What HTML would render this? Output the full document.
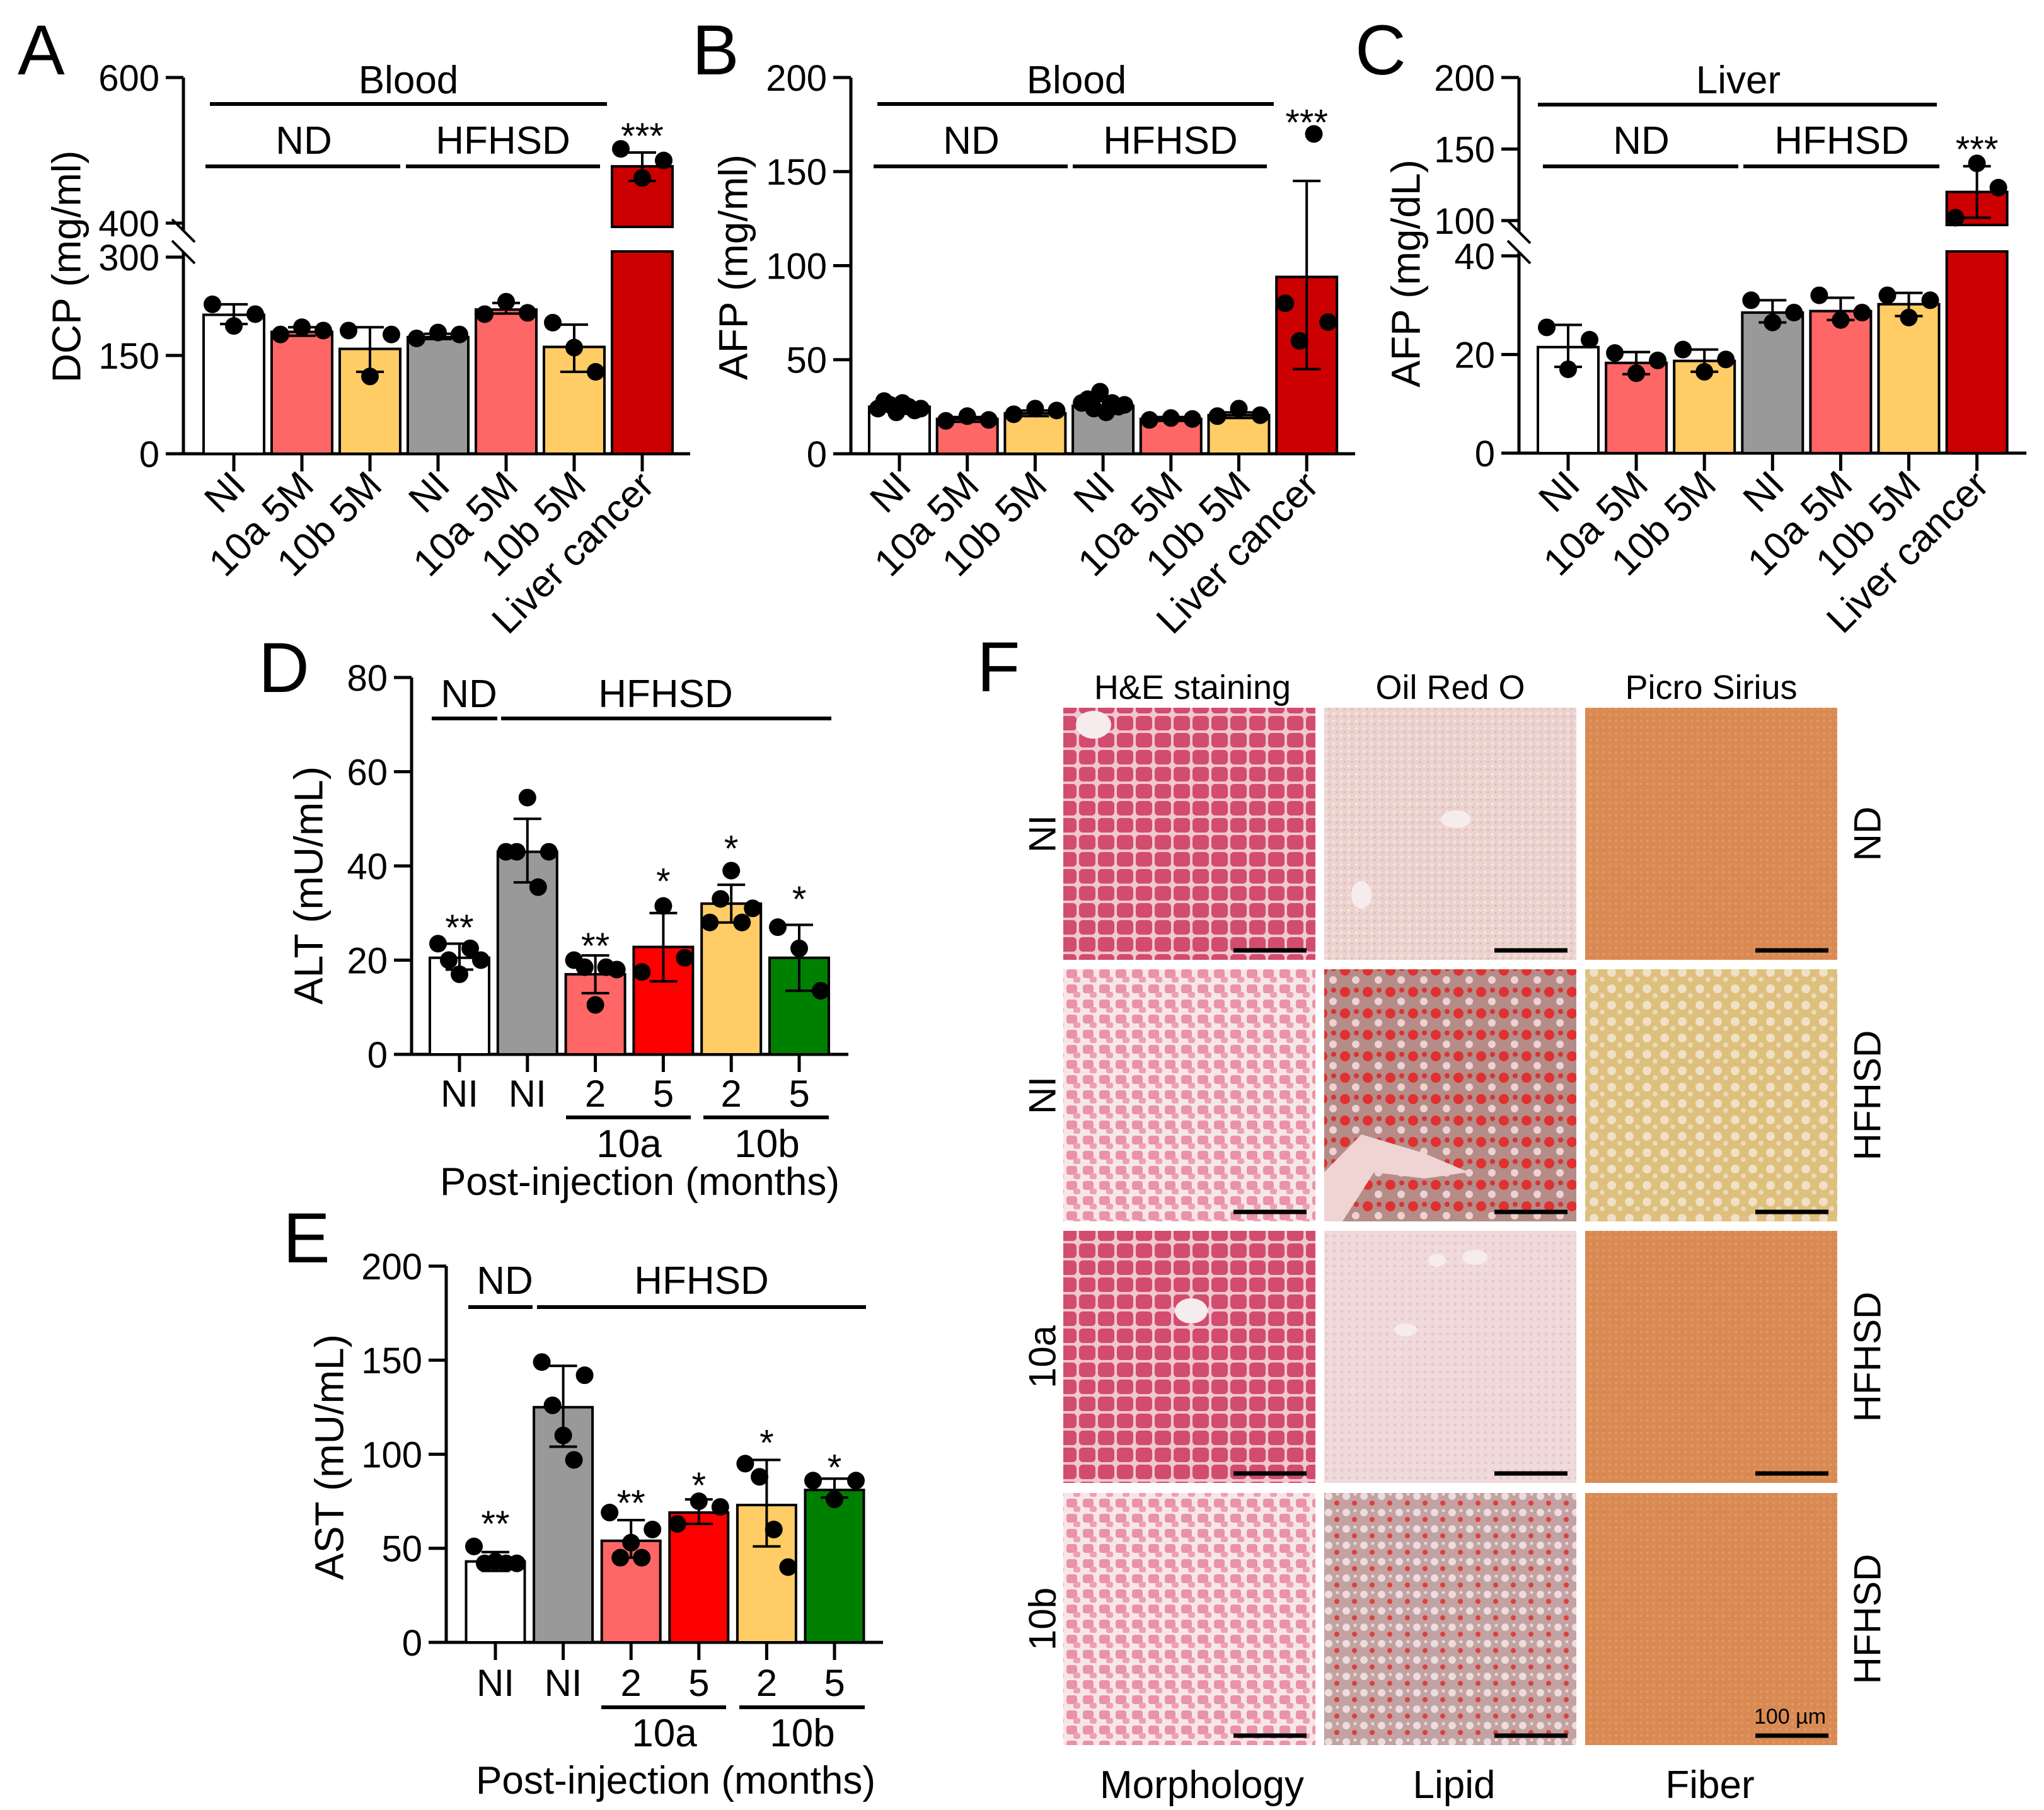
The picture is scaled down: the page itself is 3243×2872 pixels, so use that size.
<!DOCTYPE html>
<html><head><meta charset="utf-8"><style>
html,body{margin:0;padding:0;background:#fff}
svg{display:block;font-family:"Liberation Sans",Arial,sans-serif}
</style></head><body>
<svg id="fig" xmlns="http://www.w3.org/2000/svg" width="3243" height="2872" viewBox="0 0 3243 2872">
<defs>
<pattern id="heDense" width="30" height="27" patternUnits="userSpaceOnUse"><rect width="30" height="27" fill="#f2c6d0"/><rect x="2" y="2" width="26" height="23" rx="6" fill="#d24c6e"/></pattern>
<pattern id="heLoose" width="26" height="24" patternUnits="userSpaceOnUse"><rect width="26" height="24" fill="#f6e6ea"/><rect x="2" y="2" width="17" height="14" rx="4" fill="#ea92a6"/><rect x="13" y="14" width="11" height="9" rx="3" fill="#ee9fb1"/></pattern>
<pattern id="oilFine" width="12" height="12" patternUnits="userSpaceOnUse"><rect width="12" height="12" fill="#ecd2ce"/><circle cx="4" cy="4" r="2.5" fill="#f4e2de"/><circle cx="9" cy="9" r="1.5" fill="#d8b4b0"/></pattern>
<pattern id="oilRed" width="36" height="34" patternUnits="userSpaceOnUse"><rect width="36" height="34" fill="#b58c88"/><circle cx="10" cy="10" r="8" fill="#e03030"/><circle cx="27" cy="25" r="6" fill="#eed2d2"/><circle cx="28" cy="7" r="4" fill="#d83434"/></pattern>
<pattern id="oilLight" width="12" height="12" patternUnits="userSpaceOnUse"><rect width="12" height="12" fill="#f0dadc"/><circle cx="5" cy="5" r="2.5" fill="#e6c8cc"/></pattern>
<pattern id="oilDots" width="28" height="26" patternUnits="userSpaceOnUse"><rect width="28" height="26" fill="#c2a2a2"/><circle cx="8" cy="8" r="6" fill="#eedcdc"/><circle cx="21" cy="19" r="4" fill="#dc4040"/><circle cx="22" cy="5" r="2.5" fill="#eed6d6"/></pattern>
<pattern id="psOrange" width="10" height="10" patternUnits="userSpaceOnUse"><rect width="10" height="10" fill="#d98a52"/><circle cx="4" cy="4" r="2" fill="#e09a68"/></pattern>
<pattern id="psYellow" width="28" height="26" patternUnits="userSpaceOnUse"><rect width="28" height="26" fill="#dcc07c"/><circle cx="9" cy="9" r="7" fill="#efe0c6"/><circle cx="22" cy="20" r="4" fill="#ecd8bc"/></pattern>
</defs>
<g id="static" font-family="Liberation Sans, Arial, sans-serif" fill="#000">
<text x="28" y="118" font-size="112">A</text>
<text x="1098" y="118" font-size="112">B</text>
<text x="2150" y="118" font-size="112">C</text>
<text x="410" y="1098" font-size="112">D</text>
<text x="449" y="2003" font-size="112">E</text>
<text x="1550" y="1097" font-size="112">F</text>

<text x="648" y="148" font-size="62" text-anchor="middle">Blood</text>
<line x1="333" y1="165" x2="963" y2="165" stroke="#000" stroke-width="6"/>
<text x="482" y="244" font-size="62" text-anchor="middle">ND</text>
<line x1="326" y1="264" x2="635" y2="264" stroke="#000" stroke-width="6"/>
<text x="798" y="244" font-size="62" text-anchor="middle">HFHSD</text>
<line x1="644" y1="264" x2="952" y2="264" stroke="#000" stroke-width="6"/>
<text transform="translate(105,423) rotate(-90)" font-size="64" text-anchor="middle" dy="0.35em">DCP (mg/ml)</text>

<text x="1708" y="148" font-size="62" text-anchor="middle">Blood</text>
<line x1="1392" y1="165" x2="2021" y2="165" stroke="#000" stroke-width="6"/>
<text x="1541" y="244" font-size="62" text-anchor="middle">ND</text>
<line x1="1386" y1="264" x2="1694" y2="264" stroke="#000" stroke-width="6"/>
<text x="1857" y="244" font-size="62" text-anchor="middle">HFHSD</text>
<line x1="1702" y1="264" x2="2010" y2="264" stroke="#000" stroke-width="6"/>
<text transform="translate(1163,424) rotate(-90)" font-size="64" text-anchor="middle" dy="0.35em">AFP (mg/ml)</text>

<text x="2758" y="148" font-size="62" text-anchor="middle">Liver</text>
<line x1="2440" y1="166" x2="3073" y2="166" stroke="#000" stroke-width="6"/>
<text x="2604" y="244" font-size="62" text-anchor="middle">ND</text>
<line x1="2448" y1="264" x2="2758" y2="264" stroke="#000" stroke-width="6"/>
<text x="2922" y="244" font-size="62" text-anchor="middle">HFHSD</text>
<line x1="2766" y1="264" x2="3077" y2="264" stroke="#000" stroke-width="6"/>
<text transform="translate(2230,434) rotate(-90)" font-size="64" text-anchor="middle" dy="0.35em">AFP (mg/dL)</text>

<text x="744" y="1122" font-size="62" text-anchor="middle">ND</text>
<line x1="685" y1="1140" x2="789" y2="1140" stroke="#000" stroke-width="6"/>
<text x="1056" y="1122" font-size="62" text-anchor="middle">HFHSD</text>
<line x1="795" y1="1140" x2="1319" y2="1140" stroke="#000" stroke-width="6"/>
<text transform="translate(489,1405) rotate(-90)" font-size="64" text-anchor="middle" dy="0.35em">ALT (mU/mL)</text>
<line x1="898" y1="1773" x2="1096" y2="1773" stroke="#000" stroke-width="6"/>
<line x1="1116" y1="1773" x2="1315" y2="1773" stroke="#000" stroke-width="6"/>
<text x="998" y="1836" font-size="62" text-anchor="middle">10a</text>
<text x="1217" y="1836" font-size="62" text-anchor="middle">10b</text>
<text x="1015" y="1896" font-size="62" text-anchor="middle">Post-injection (months)</text>

<text x="801" y="2053" font-size="62" text-anchor="middle">ND</text>
<line x1="743" y1="2074" x2="845" y2="2074" stroke="#000" stroke-width="6"/>
<text x="1113" y="2053" font-size="62" text-anchor="middle">HFHSD</text>
<line x1="852" y1="2074" x2="1374" y2="2074" stroke="#000" stroke-width="6"/>
<text transform="translate(522,2312) rotate(-90)" font-size="64" text-anchor="middle" dy="0.35em">AST (mU/mL)</text>
<line x1="954" y1="2709" x2="1152" y2="2709" stroke="#000" stroke-width="6"/>
<line x1="1173" y1="2709" x2="1372" y2="2709" stroke="#000" stroke-width="6"/>
<text x="1054" y="2771" font-size="62" text-anchor="middle">10a</text>
<text x="1273" y="2771" font-size="62" text-anchor="middle">10b</text>
<text x="1072" y="2846" font-size="62" text-anchor="middle">Post-injection (months)</text>

<text x="1892" y="1109" font-size="54" text-anchor="middle">H&amp;E staining</text>
<text x="2301" y="1109" font-size="54" text-anchor="middle">Oil Red O</text>
<text x="2715" y="1109" font-size="54" text-anchor="middle">Picro Sirius</text>
<text x="1907" y="2853" font-size="62" text-anchor="middle">Morphology</text>
<text x="2307" y="2853" font-size="62" text-anchor="middle">Lipid</text>
<text x="2713" y="2853" font-size="62" text-anchor="middle">Fiber</text>
</g>
<g id="dyn"></g>
</svg>
<script>
// ---------- Panel A data (DCP, blood) ----------
const aCategories = ["NI","10a 5M","10b 5M","NI","10a 5M","10b 5M","Liver cancer"];
const aMeans = [212,186,160,178,220,163,478];
const aErrLow = [198,180,125,175,214,125,458];
const aErrHigh = [228,193,193,183,230,197,497];
const aPoints = [[228,195,213],[182,193,188],[188,118,182],[176,185,182],[213,232,215],[200,162,125],[502,462,486]];
const aTicksLow = [0,150,300];
const aTicksHigh = [400,600];
const aStars = ["","","","","","","***"];
const aStarValues = [0,0,0,0,0,0,530];

// ---------- Panel B data (AFP, blood) ----------
const bCategories = ["NI","10a 5M","10b 5M","NI","10a 5M","10b 5M","Liver cancer"];
const bMeans = [25,18.5,21.5,25.5,18.5,20.5,94];
const bErrLow = [23,17,20,23,17.5,19,45];
const bErrHigh = [27,19.5,23,28,19.5,22,145];
const bPoints = [[24,28,26,22,27,25,23,24],[17.5,20,18],[21,24,23],[27,29,24,33,22,27,25,26],[18,19,18.5],[20,24,20.5],[80,60,170,70]];
const bTicks = [0,50,100,150,200];
const bStars = ["","","","","","","***"];
const bStarValues = [0,0,0,0,0,0,180];

// ---------- Panel C data (AFP, liver) ----------
const cCategories = ["NI","10a 5M","10b 5M","NI","10a 5M","10b 5M","Liver cancer"];
const cMeans = [21.5,18.3,18.7,28.5,28.8,30.2,120];
const cErrLow = [17.5,16,16.5,26.5,27,27.8,102];
const cErrHigh = [26,20.5,21,31,31.5,32.5,138];
const cPoints = [[25.5,17,23],[20.3,16.2,18.8],[21,16.5,19],[31,26.5,28.5],[32,27,28.5],[32,27.5,31],[102,140,123]];
const cTicksLow = [0,20,40];
const cTicksHigh = [100,150,200];
const cStars = ["","","","","","","***"];
const cStarValues = [0,0,0,0,0,0,155];

// ---------- Panel D data (ALT) ----------
const dCategories = ["NI","NI","2","5","2","5"];
const dMeans = [20.5,43,17,22.8,32,20.5];
const dErrLow = [18,36.5,13,15.5,28,13.5];
const dErrHigh = [23.5,50,21,30,36,27.5];
const dPoints = [[23.5,20,17,22.5,20],[43,43,54.5,35.5,43],[20,18.5,10.5,18.5,18],[17.5,31.5,20.5],[28,33,39,28,31],[27,22.5,13.5]];
const dTicks = [0,20,40,60,80];
const dStars = ["**","","**","*","*","*"];
const dStarValues = [28.5,0,24.6,38.3,45.3,34.5];

// ---------- Panel E data (AST) ----------
const eCategories = ["NI","NI","2","5","2","5"];
const eMeans = [43,125,54,69,73,81];
const eErrLow = [38,104,45,63,51,77];
const eErrHigh = [48,147,65,76,97,87];
const ePoints = [[51,42,43,42,42],[149,126,110,97,142],[69,45,53,45,60],[63,75,72],[95,88,60,40],[86,76,86]];
const eTicks = [0,50,100,150,200];
const eStars = ["**","","**","*","*","*"];
const eStarValues = [67,0,78,87.5,110,97];

const NS = "http://www.w3.org/2000/svg";
const root = document.getElementById("dyn");
function mk(tag, attrs, parent){
  const el = document.createElementNS(NS, tag);
  for (const k in attrs) el.setAttribute(k, attrs[k]);
  (parent || root).appendChild(el);
  return el;
}
const COL = {white:"#ffffff", salmon:"#ff6666", yellow:"#ffcc66", gray:"#999999", dred:"#cc0000", red:"#ff0000", green:"#008000"};

function drawChart(cfg){
  const g = mk("g", {});
  
  
  const n = cfg.categories.length;
  const cx = i => cfg.x0 + i * cfg.step;
  if (cfg.brk){
    const a1 = mk("line", {x1:cfg.axisX, y1:cfg.yTop, x2:cfg.axisX, y2:cfg.brk.axUp, stroke:"#000","stroke-width":5}, g);
    
    
    const a2 = mk("line", {x1:cfg.axisX, y1:cfg.brk.axLow, x2:cfg.axisX, y2:cfg.base+2, stroke:"#000","stroke-width":5}, g);
    
    
    [cfg.brk.axUp, cfg.brk.axLow].forEach(yy => {
      const d = mk("line", {x1:cfg.axisX-18, y1:yy-18, x2:cfg.axisX+18, y2:yy+18, stroke:"#000","stroke-width":4}, g);
      
      
    });
  } else {
    const a = mk("line", {x1:cfg.axisX, y1:cfg.yTop, x2:cfg.axisX, y2:cfg.base+2, stroke:"#000","stroke-width":5}, g);
    
    
  }
  const xa = mk("line", {x1:cfg.axisX-28, y1:cfg.base, x2:cfg.xEnd, y2:cfg.base, stroke:"#000","stroke-width":5}, g);
  
  
  cfg.ticks.forEach(t => {
    const yy = cfg.y(t);
    const tl = mk("line", {x1:cfg.axisX-28, y1:yy, x2:cfg.axisX, y2:yy, stroke:"#000","stroke-width":5}, g);
    
    
    const tx = mk("text", {x:cfg.axisX-38, y:yy, "font-size":58, "text-anchor":"end", dy:"0.36em"}, g);
    tx.textContent = String(t);
    
    
  });
  for (let i = 0; i < n; i++){
    const x = cx(i), w = cfg.bw, yT = cfg.y(cfg.means[i]);
    if (cfg.brk && yT < cfg.brk.barUp){
      const r1 = mk("rect", {x:x-w/2, y:yT, width:w, height:cfg.brk.barUp-yT, fill:cfg.colors[i], stroke:"#000","stroke-width":4}, g);
      
      
      const r2 = mk("rect", {x:x-w/2, y:cfg.brk.barLow, width:w, height:cfg.base-cfg.brk.barLow, fill:cfg.colors[i], stroke:"#000","stroke-width":4}, g);
      
      
    } else {
      const r = mk("rect", {x:x-w/2, y:yT, width:w, height:cfg.base-yT, fill:cfg.colors[i], stroke:"#000","stroke-width":4}, g);
      
      
    }
    const xt = mk("line", {x1:x, y1:cfg.base, x2:x, y2:cfg.base+28, stroke:"#000","stroke-width":5}, g);
    
    
    const yl = cfg.y(cfg.errLow[i]), yh = cfg.y(cfg.errHigh[i]);
    const ev = mk("line", {x1:x, y1:yl, x2:x, y2:yh, stroke:"#000","stroke-width":4}, g);
    
    
    [yl, yh].forEach(yy => {
      const c = mk("line", {x1:x-22, y1:yy, x2:x+22, y2:yy, stroke:"#000","stroke-width":4}, g);
      
      
    });
    const pts = cfg.points[i], m = pts.length;
    pts.forEach((v, j) => {
      const off = m > 1 ? -34 + 68 * j / (m - 1) : 0;
      const p = mk("circle", {cx:x+off, cy:cfg.y(v), r:14, fill:"#000"}, g);
      
      
    });
    if (cfg.stars[i]){
      const s = mk("text", {x:x, y:cfg.y(cfg.starValues[i]) + 32, "font-size":58, "text-anchor":"middle"}, g);
      s.textContent = cfg.stars[i];
      
      
    }
    if (cfg.rotLabels){
      const t = mk("text", {transform:"translate(" + (x+22) + "," + (cfg.base+54) + ") rotate(-45)", "font-size":61, "text-anchor":"end"}, g);
      t.textContent = cfg.categories[i];
      
      
    } else {
      const t = mk("text", {x:x, y:cfg.labelY, "font-size":60, "text-anchor":"middle"}, g);
      t.textContent = cfg.categories[i];
      
      
    }
  }
}

const colors7 = [COL.white, COL.salmon, COL.yellow, COL.gray, COL.salmon, COL.yellow, COL.dred];
const colors6 = [COL.white, COL.gray, COL.salmon, COL.red, COL.yellow, COL.green];

function yA(v){ return v <= 330 ? 720 - v * (720 - 408) / 300 : 354 - (v - 400) * (354 - 123) / 200; }
drawChart({name:"a", categories:aCategories, means:aMeans, errLow:aErrLow, errHigh:aErrHigh, points:aPoints,
  stars:aStars, starValues:aStarValues, ticks:aTicksLow.concat(aTicksHigh), y:yA, x0:371, step:108, bw:96,
  axisX:291, yTop:123, base:720, xEnd:1095, colors:colors7, rotLabels:true,
  brk:{axUp:366, axLow:400, barUp:360, barLow:399}});

function yB(v){ return 720 - v * 597 / 200; }
drawChart({name:"b", categories:bCategories, means:bMeans, errLow:bErrLow, errHigh:bErrHigh, points:bPoints,
  stars:bStars, starValues:bStarValues, ticks:bTicks, y:yB, x0:1427, step:107.7, bw:96,
  axisX:1350, yTop:123, base:720, xEnd:2150, colors:colors7, rotLabels:true});

function yC(v){ return v <= 60 ? 719 - v * (719 - 406) / 40 : 350 - (v - 100) * (350 - 123) / 100; }
drawChart({name:"c", categories:cCategories, means:cMeans, errLow:cErrLow, errHigh:cErrHigh, points:cPoints,
  stars:cStars, starValues:cStarValues, ticks:cTicksLow.concat(cTicksHigh), y:yC, x0:2488, step:108.1, bw:96,
  axisX:2410, yTop:123, base:719, xEnd:3215, colors:colors7, rotLabels:true,
  brk:{axUp:368, axLow:400, barUp:357, barLow:399}});

function yD(v){ return 1673 - v * 598 / 80; }
drawChart({name:"d", categories:dCategories, means:dMeans, errLow:dErrLow, errHigh:dErrHigh, points:dPoints,
  stars:dStars, starValues:dStarValues, ticks:dTicks, y:yD, x0:729, step:107.8, bw:94,
  axisX:653, yTop:1075, base:1673, xEnd:1346, colors:colors6, rotLabels:false, labelY:1756});

function yE(v){ return 2606 - v * 597 / 200; }
drawChart({name:"e", categories:eCategories, means:eMeans, errLow:eErrLow, errHigh:eErrHigh, points:ePoints,
  stars:eStars, starValues:eStarValues, ticks:eTicks, y:yE, x0:786, step:107.6, bw:93,
  axisX:708, yTop:2009, base:2606, xEnd:1401, colors:colors6, rotLabels:false, labelY:2691});

// ---------- Panel F micrographs ----------
const fColX = [1687, 2101, 2515];
const fRowY = [1123, 1538, 1953, 2369];
const fFills = [["url(#heDense)","url(#oilFine)","url(#psOrange)"],
                ["url(#heLoose)","url(#oilRed)","url(#psYellow)"],
                ["url(#heDense)","url(#oilLight)","url(#psOrange)"],
                ["url(#heLoose)","url(#oilDots)","url(#psOrange)"]];
const fRowLeft = ["NI","NI","10a","10b"];
const fRowRight = ["ND","HFHSD","HFHSD","HFHSD"];
const fColNames = ["he","oil-red-o","picro-sirius"];
const fg = mk("g", {});


fRowY.forEach((ry, r) => {
  fColX.forEach((cxp, c) => {
    const im = mk("rect", {x:cxp, y:ry, width:400, height:400, fill:fFills[r][c]}, fg);
    
    
    const sb = mk("line", {x1:cxp+270, y1:ry+385, x2:cxp+386, y2:ry+385, stroke:"#000","stroke-width":7}, fg);
    
    
  });
  const tl = mk("text", {transform:"translate(1653," + (ry+200) + ") rotate(-90)", "font-size":60, "text-anchor":"middle", dy:"0.36em"}, fg);
  tl.textContent = fRowLeft[r];
  
  
  const tr = mk("text", {transform:"translate(2962," + (ry+200) + ") rotate(-90)", "font-size":60, "text-anchor":"middle", dy:"0.36em"}, fg);
  tr.textContent = fRowRight[r];
  
  
});
[[1735,1150,28,22],[2310,1300,24,14],[2160,1420,16,22],[2280,2000,14,10],[1890,2080,26,20],[2340,1995,20,12],[2230,2110,18,10]].forEach(s => {
  const e = mk("ellipse", {cx:s[0], cy:s[1], rx:s[2], ry:s[3], fill:"#f6ecee"}, fg);
  
  
});
const lumen = mk("path", {d:"M2101,1860 L2160,1800 L2260,1830 L2330,1860 L2260,1870 L2180,1860 L2130,1938 L2101,1938 Z", fill:"#f0d4d4"}, fg);


const um = mk("text", {x:2840, y:2735, "font-size":34, "text-anchor":"middle"}, fg);
um.textContent = "100 µm";


</script>
</body></html>
